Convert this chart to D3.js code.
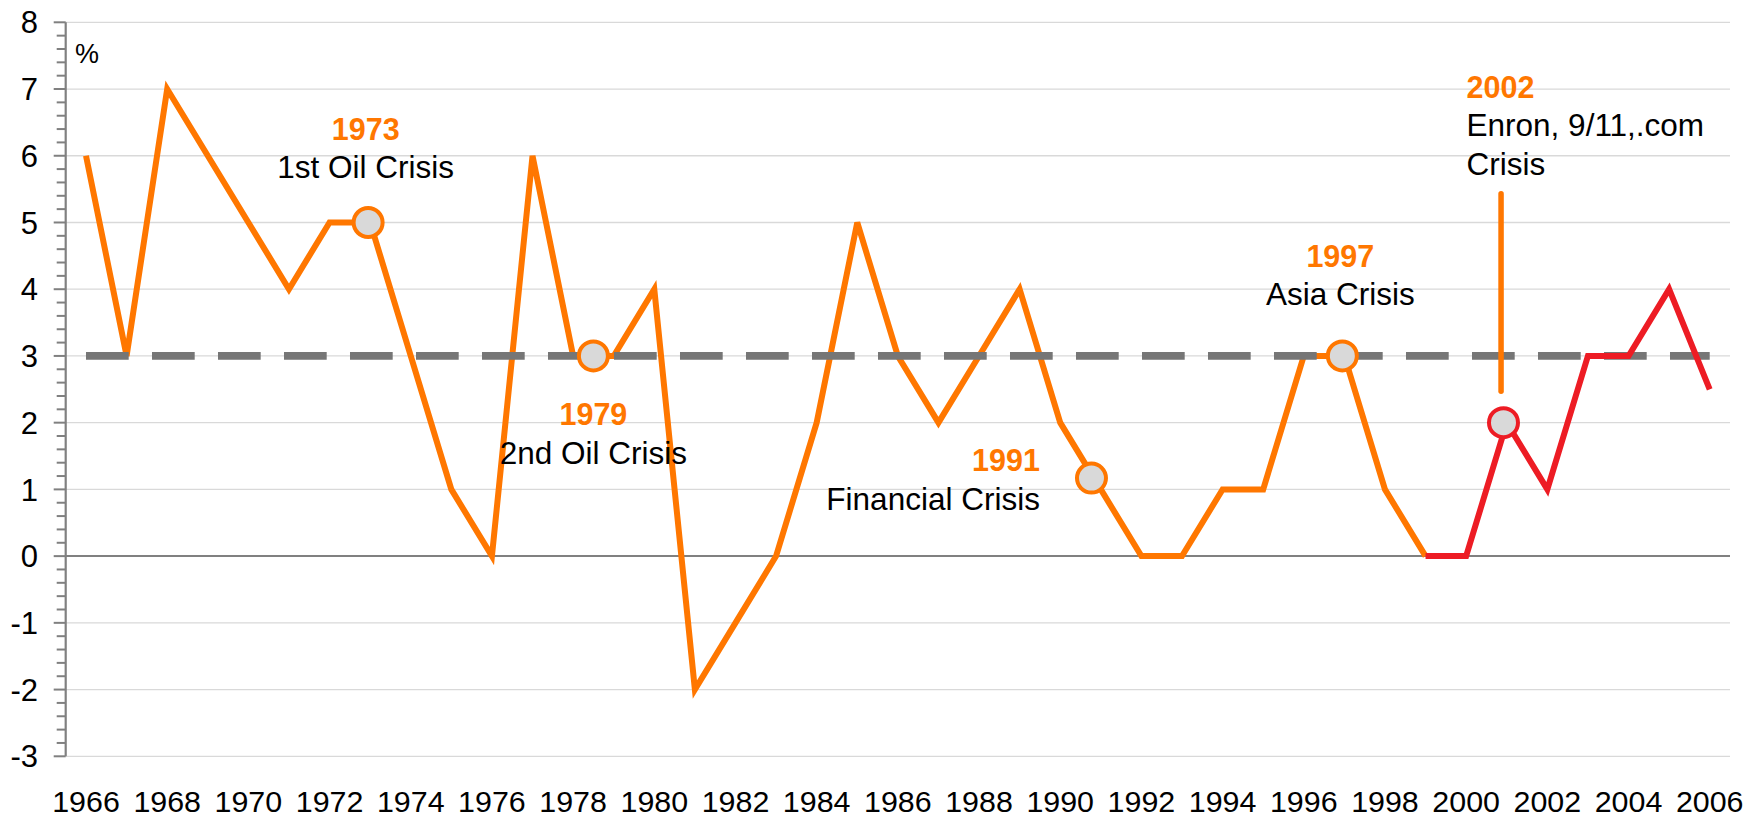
<!DOCTYPE html>
<html>
<head>
<meta charset="utf-8">
<script src="https://cdn.jsdelivr.net/npm/d3@7"></script>
<style>
    body { margin: 0; background: #fff; }
    svg { display: block; font-family: "Liberation Sans", Arial, sans-serif; }
</style>
</head>
<body>
<div id="chart"></div>
<script>
// yearly values (%), orange until 1999, red from 1999 on
var years = d3.range(1966, 2007);
var values = [6, 3, 7, 6, 5, 4, 5, 5, 3, 1, 0, 6, 3, 3, 4, -2, -1, 0, 2, 5, 3, 2, 3, 4, 2, 1, 0, 0, 1, 1, 3, 3, 1, 0, 0, 2, 1, 3, 3, 4, 2.5];
var redFromYear = 1999;
var averageValue = 3;

var yTicks = [-3, -2, -1, 0, 1, 2, 3, 4, 5, 6, 7, 8];
var xTickLabels = d3.range(1966, 2007, 2);

// crisis markers
var markerYears = [1972.95, 1978.5, 1990.77, 1996.95, 2000.92];
var markerValues = [5, 3, 1.17, 3, 2];
var crisisYears = ["1973", "1979", "1991", "1997", "2002"];
var crisisNames = [["1st Oil Crisis"], ["2nd Oil Crisis"], ["Financial Crisis"], ["Asia Crisis"], ["Enron, 9/11,.com", "Crisis"]];

// label anchors in chart units (year, value of first baseline)
var labelLayout = [
    {x: 1972.89, y: 6.24, anchor: "middle"},
    {x: 1978.5, y: 1.96, anchor: "middle"},
    {x: 1989.5, y: 1.27, anchor: "end"},
    {x: 1996.9, y: 4.34, anchor: "middle"},
    {x: 2000.01, y: 6.87, anchor: "start"}
];
var leader = {x: 2000.86, y1: 5.43, y2: 2.47};

var width = 1748, height = 816;
var plotLeft = 65.7, plotRight = 1730, plotTop = 22.3, plotBottom = 756.3;
var orange = "#FF7700", red = "#ED1C24", gray = "#808080";

var svg = d3.select("#chart").append("svg")
    .attr("width", width).attr("height", height);

var x = d3.scaleBand().domain(years).range([plotLeft, plotRight]).padding(0);
var bw = x.bandwidth();
var xl = d3.scaleLinear().domain([1966, 2006])
    .range([x(1966) + bw / 2, x(2006) + bw / 2]);
var y = d3.scaleLinear().domain([-3, 8]).range([plotBottom, plotTop]);

// gridlines
svg.append("g").selectAll("line")
    .data(yTicks.filter(function (d) { return d !== 0; }))
    .enter().append("line")
    .attr("x1", plotLeft).attr("x2", plotRight)
    .attr("y1", function (d) { return y(d); })
    .attr("y2", function (d) { return y(d); })
    .attr("stroke", "#D9D9D9").attr("stroke-width", 1.3);

// zero line
svg.append("line")
    .attr("x1", plotLeft).attr("x2", plotRight)
    .attr("y1", y(0)).attr("y2", y(0))
    .attr("stroke", gray).attr("stroke-width", 2);

// y axis with minor ticks
var minor = d3.range(-3, 8.001, 0.2).map(function (d) { return Math.round(d * 10) / 10; });
svg.append("g").selectAll("line")
    .data(minor)
    .enter().append("line")
    .attr("x1", function (d) { return Number.isInteger(d) ? plotLeft - 12 : plotLeft - 9; })
    .attr("x2", plotLeft)
    .attr("y1", function (d) { return y(d); })
    .attr("y2", function (d) { return y(d); })
    .attr("stroke", gray).attr("stroke-width", 2);

svg.append("line")
    .attr("x1", plotLeft).attr("x2", plotLeft)
    .attr("y1", plotTop).attr("y2", plotBottom)
    .attr("stroke", gray).attr("stroke-width", 2.2);

svg.append("g").selectAll("text")
    .data(yTicks)
    .enter().append("text")
    .attr("x", 38)
    .attr("y", function (d) { return y(d); })
    .attr("dy", "0.36em")
    .attr("text-anchor", "end")
    .attr("font-size", 31)
    .attr("fill", "#000")
    .text(function (d) { return d; });

svg.append("text")
    .attr("x", 75).attr("y", 63)
    .attr("font-size", 27)
    .text("%");

// x labels
svg.append("g").selectAll("text")
    .data(xTickLabels)
    .enter().append("text")
    .attr("x", function (d) { return x(d) + bw / 2; })
    .attr("y", 811.5)
    .attr("text-anchor", "middle")
    .attr("font-size", 30.4)
    .text(function (d) { return d; });

var points = years.map(function (d, i) { return {year: d, value: values[i]}; });
var line = d3.line()
    .x(function (d) { return x(d.year) + bw / 2; })
    .y(function (d) { return y(d.value); });

// orange part
svg.append("path")
    .datum(points.filter(function (d) { return d.year <= redFromYear; }))
    .attr("d", line)
    .attr("fill", "none").attr("stroke", orange)
    .attr("stroke-width", 6).attr("stroke-linejoin", "miter");

// average dashed line
svg.append("line")
    .attr("x1", x(1966) + bw / 2).attr("x2", x(2006) + bw / 2)
    .attr("y1", y(averageValue)).attr("y2", y(averageValue))
    .attr("stroke", "#767676").attr("stroke-width", 7.7)
    .attr("stroke-dasharray", "42.7,23.3");

// red part
svg.append("path")
    .datum(points.filter(function (d) { return d.year >= redFromYear; }))
    .attr("d", line)
    .attr("fill", "none").attr("stroke", red)
    .attr("stroke-width", 6).attr("stroke-linejoin", "miter");

// leader line for 2002
svg.append("line")
    .attr("x1", xl(leader.x)).attr("x2", xl(leader.x))
    .attr("y1", y(leader.y1)).attr("y2", y(leader.y2))
    .attr("stroke", orange).attr("stroke-width", 5.5)
    .attr("stroke-linecap", "round");

// markers
svg.append("g").selectAll("circle")
    .data(markerYears)
    .enter().append("circle")
    .attr("cx", function (d) { return xl(d); })
    .attr("cy", function (d, i) { return y(markerValues[i]); })
    .attr("r", 14.5)
    .attr("fill", "#D9D9D9")
    .attr("stroke", function (d) { return d >= redFromYear ? red : orange; })
    .attr("stroke-width", 4);

// crisis labels
var lineHeight = 38.5;
crisisYears.forEach(function (label, i) {
    var pos = labelLayout[i];
    var g = svg.append("text")
        .attr("x", xl(pos.x))
        .attr("y", y(pos.y))
        .attr("text-anchor", pos.anchor);
    g.append("tspan")
        .attr("x", xl(pos.x))
        .attr("fill", orange)
        .attr("font-weight", "bold")
        .attr("font-size", 30.5)
        .text(label);
    crisisNames[i].forEach(function (name) {
        g.append("tspan")
            .attr("x", xl(pos.x))
            .attr("dy", lineHeight)
            .attr("fill", "#000")
            .attr("font-size", 31.5)
            .text(name);
    });
});
</script>
</body>
</html>
